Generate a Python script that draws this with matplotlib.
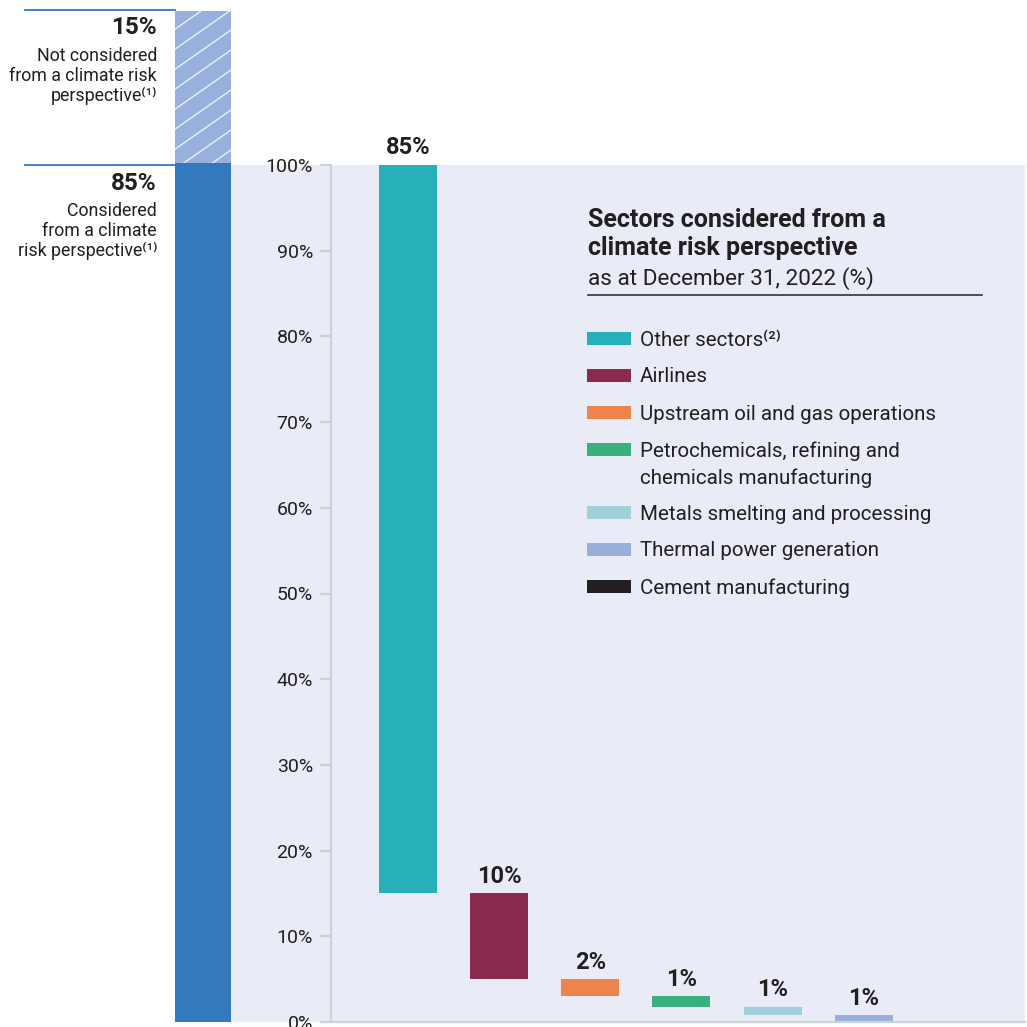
import numpy as np
import matplotlib
matplotlib.use("Agg")
import matplotlib.pyplot as plt
from matplotlib.patches import Rectangle
from matplotlib.lines import Line2D

plt.rcParams["font.family"] = ["Roboto", "DejaVu Sans"]

# portfolio split (left column)
SPLIT_SHARES = [85, 15]
SPLIT_HEAD = ["85%", "15%"]
SPLIT_TEXT = [["Considered", "from a climate", "risk perspective⁽¹⁾"],
              ["Not considered", "from a climate risk", "perspective⁽¹⁾"]]
SPLIT_COLORS = ["#3579bd", "#98b0dc"]

# sector breakdown (waterfall)
SECTORS = ["Other sectors⁽²⁾", "Airlines", "Upstream oil and gas operations",
           "Petrochemicals, refining and\nchemicals manufacturing",
           "Metals smelting and processing", "Thermal power generation",
           "Cement manufacturing"]
SHARES = [85, 10, 2, 1.2, 1.0, 0.8, 0]
COLORS = ["#26b0b9", "#8b294e", "#ee844c", "#3bb07f", "#a0d1d8", "#98afdb", "#231f20"]

TXT = "#231f20"
GRID = "#c8d5d2"
BG = "#e9ebf6"
W = H = 1027


def fx(px):
    return px / W


def fy(py):
    return 1 - py / H


fig = plt.figure(figsize=(10.27, 10.27), dpi=100)

# lavender panel behind the sector chart
fig.patches.append(Rectangle((fx(231), fy(1022)), fx(1025) - fx(231), fy(165) - fy(1022),
                             transform=fig.transFigure, facecolor=BG, edgecolor="none",
                             zorder=-5))

# ---- left split column
axl = fig.add_axes([fx(175), fy(1022), fx(231) - fx(175), fy(11) - fy(1022)])
axl.set_xlim(-0.5, 0.5)
axl.set_ylim(0, 100)
axl.axis("off")
bars = axl.bar([0, 0], SPLIT_SHARES, bottom=[0, SPLIT_SHARES[0]], width=1.0,
               color=SPLIT_COLORS, edgecolor="none")
# diagonal white hatch on the "not considered" part
top_bar = bars[1]
x0, x1 = fx(175), fx(231)
step = 20 / H
for c in np.arange(fy(170) - 0.7 * (x1 - x0), fy(0), step):
    ln = Line2D([x0, x1], [c, c + 0.7 * (x1 - x0)], transform=fig.transFigure,
                color="white", lw=1.0, alpha=0.8)
    ln.set_clip_path(top_bar)
    fig.add_artist(ln)

# divider lines and labels
for yb, head, lines in [(165, SPLIT_HEAD[0], SPLIT_TEXT[0]), (10, SPLIT_HEAD[1], SPLIT_TEXT[1])]:
    fig.add_artist(Line2D([fx(25), fx(175)], [fy(yb), fy(yb)], transform=fig.transFigure,
                          color="#3579bd", lw=1.3))
    fig.text(fx(157), fy(yb + 18), head, ha="right", va="center", fontsize=17.5,
             fontweight="bold", color=TXT)
    for i, t in enumerate(lines):
        fig.text(fx(157), fy(yb + 46 + 20 * i), t, ha="right", va="center",
                 fontsize=12.8, color=TXT)

# ---- sector waterfall
ax = fig.add_axes([fx(331), fy(1022), fx(1025) - fx(331), fy(165) - fy(1022)])
ax.set_facecolor("none")
x = np.arange(len(SHARES))
bottoms = 100 - np.cumsum(SHARES)
ax.bar(x, SHARES, bottom=bottoms, width=0.636, color=COLORS, edgecolor="none")
for xi, v, b in zip(x, SHARES, bottoms):
    if v > 0:
        ax.annotate(f"{v:.0f}%", (xi, b + v), xytext=(0, 4), textcoords="offset points",
                    ha="center", va="bottom", fontsize=17, fontweight="bold", color=TXT,
                    annotation_clip=False)
ax.set_xlim(-0.844, 6.77)
ax.set_ylim(0, 100)
ax.set_yticks(np.arange(0, 101, 10))
ax.set_yticklabels([f"{t}%" for t in range(0, 101, 10)])
ax.set_xticks([])
for s in ["top", "right"]:
    ax.spines[s].set_visible(False)
for s in ["left", "bottom"]:
    ax.spines[s].set_color(GRID)
    ax.spines[s].set_linewidth(1.6)
ax.tick_params(axis="y", length=8, width=1.6, color=GRID, labelsize=14,
               labelcolor=TXT, pad=5)

# ---- legend block
fig.text(fx(588), fy(220), "Sectors considered from a", fontsize=18, fontweight="bold",
         color=TXT, va="center")
fig.text(fx(588), fy(248), "climate risk perspective", fontsize=18, fontweight="bold",
         color=TXT, va="center")
fig.text(fx(588), fy(279), "as at December 31, 2022 (%)", fontsize=16.2, color=TXT, va="center")
fig.add_artist(Line2D([fx(588), fx(982)], [fy(295), fy(295)], transform=fig.transFigure,
                      color="#333333", lw=1.2))

ypos = 338
for name, col in zip(SECTORS, COLORS):
    fig.patches.append(Rectangle((fx(587), fy(ypos + 6.5)), fx(44), fx(13),
                                 transform=fig.transFigure, facecolor=col, edgecolor="none"))
    parts = name.split("\n")
    for i, p in enumerate(parts):
        fig.text(fx(640), fy(ypos + 2 + 27 * i), p, fontsize=14.8, color=TXT, va="center")
    ypos += 37 + 26 * (len(parts) - 1)

fig.savefig("out.png", dpi=100, facecolor="white")
